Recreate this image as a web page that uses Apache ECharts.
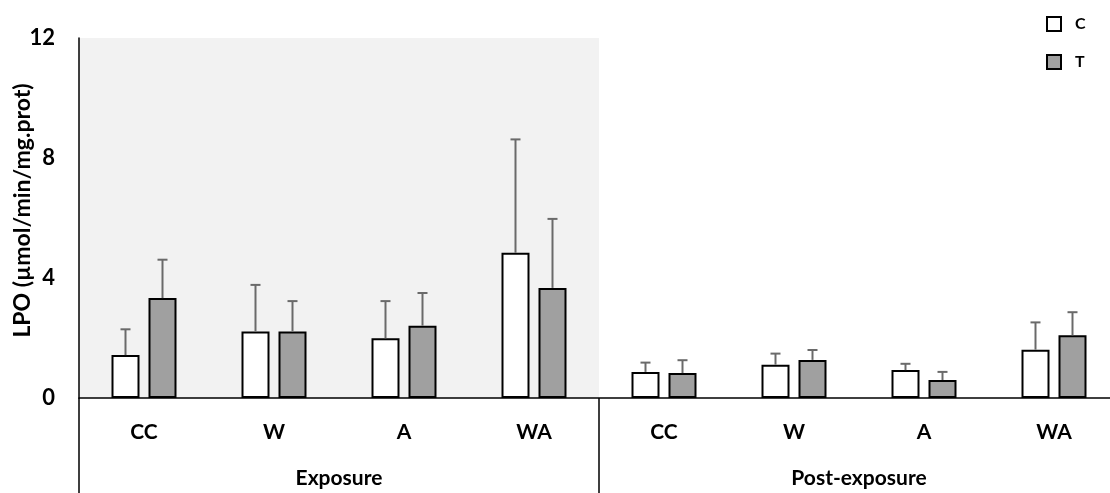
<!DOCTYPE html>
<html>
<head>
<meta charset="utf-8">
<script src="https://cdn.jsdelivr.net/npm/echarts@6/dist/echarts.min.js"></script>
<style>
  html, body { margin: 0; padding: 0; background: #fff; }
  #chart { width: 1110px; height: 493px; }
</style>
</head>
<body>
<div id="chart"></div>
<script>
// Treatments, repeated for the exposure and post-exposure phases
const categories = ['CC', 'W', 'A', 'WA', 'CC', 'W', 'A', 'WA'];
const phases = ['Exposure', 'Post-exposure'];

// LPO means and standard deviations (µmol/min/mg.prot)
const meanC = [1.43, 2.22, 1.99, 4.84, 0.87, 1.11, 0.93, 1.61];
const sdC   = [0.86, 1.55, 1.24, 3.78, 0.31, 0.37, 0.21, 0.91];
const meanT = [3.33, 2.22, 2.41, 3.67, 0.83, 1.27, 0.60, 2.09];
const sdT   = [1.28, 1.01, 1.09, 2.30, 0.43, 0.33, 0.27, 0.77];

const yTicks = { min: 0, max: 12, interval: 4 };

const FONT = 'Lato';
const BAR_W = 28;
const BAR_GAP = 9;

function errData(mean, sd) {
  return mean.map((m, i) => [i, m, m + sd[i]]);
}

// Upper error whisker with a short cap, shifted onto its bar
function errRenderer(side) {
  return function (params, api) {
    const i = api.value(0);
    const base = api.coord([i, api.value(1)]);
    const top = api.coord([i, api.value(2)]);
    const dx = side * (BAR_W + BAR_GAP) / 2;
    const x = base[0] + dx;
    const style = { stroke: '#6a6a6a', lineWidth: 2 };
    return {
      type: 'group',
      children: [
        { type: 'line', shape: { x1: x, y1: base[1], x2: x, y2: top[1] }, style },
        { type: 'line', shape: { x1: x - 5, y1: top[1], x2: x + 5, y2: top[1] }, style }
      ]
    };
  };
}

const chart = echarts.init(document.getElementById('chart'));
chart.setOption({
  animation: false,
  textStyle: { fontFamily: FONT },
  grid: { left: 79, top: 38, right: -9, bottom: 95, containLabel: false, outerBoundsMode: 'none' },
  legend: {
    data: ['C', 'T'],
    orient: 'vertical',
    left: 1041,
    top: 11,
    itemWidth: 14,
    itemHeight: 14,
    itemGap: 22,
    icon: 'rect',
    textStyle: { fontFamily: FONT, fontWeight: 'bold', fontSize: 16, color: '#000', padding: [0, 0, 0, 9] }
  },
  xAxis: [
    {
      type: 'category',
      data: categories,
      position: 'bottom',
      axisLine: { show: true, lineStyle: { color: '#000', width: 1.5 } },
      axisTick: { show: false },
      axisLabel: { margin: 24, fontFamily: FONT, fontWeight: 'bold', fontSize: 21, color: '#000', interval: 0 },
      splitLine: { show: false }
    },
    {
      type: 'category',
      data: phases,
      position: 'bottom',
      axisLine: { show: false },
      axisTick: { show: true, length: 95, lineStyle: { color: '#000', width: 1.5 } },
      axisLabel: { margin: 70, fontFamily: FONT, fontWeight: 'bold', fontSize: 21, color: '#000' },
      splitLine: { show: false },
      splitArea: { show: true, areaStyle: { color: ['#f2f2f2', 'rgba(255,255,255,0)'] } }
    }
  ],
  yAxis: {
    type: 'value',
    min: yTicks.min,
    max: yTicks.max,
    interval: yTicks.interval,
    name: 'LPO (µmol/min/mg.prot)',
    nameLocation: 'middle',
    nameGap: 45,
    nameMoveOverlap: false,
    nameTextStyle: { fontFamily: FONT, fontWeight: 'bold', fontSize: 23, color: '#000', padding: [0, 0, 0, 15] },
    axisLine: { show: true, lineStyle: { color: '#000', width: 1.5 } },
    axisTick: { show: false },
    axisLabel: { margin: 24, fontFamily: FONT, fontWeight: 'bold', fontSize: 22, color: '#000' },
    splitLine: { show: false }
  },
  series: [
    {
      name: 'C',
      type: 'bar',
      data: meanC,
      barWidth: BAR_W,
      barGap: (BAR_GAP / BAR_W * 100) + '%',
      itemStyle: { color: '#ffffff', borderColor: '#000', borderWidth: 2 },
      z: 2
    },
    {
      name: 'T',
      type: 'bar',
      data: meanT,
      barWidth: BAR_W,
      itemStyle: { color: '#a0a0a0', borderColor: '#000', borderWidth: 2 },
      z: 2
    },
    {
      name: 'C error',
      type: 'custom',
      data: errData(meanC, sdC),
      renderItem: errRenderer(-1),
      z: 3
    },
    {
      name: 'T error',
      type: 'custom',
      data: errData(meanT, sdT),
      renderItem: errRenderer(1),
      z: 3
    }
  ]
});
</script>
</body>
</html>
